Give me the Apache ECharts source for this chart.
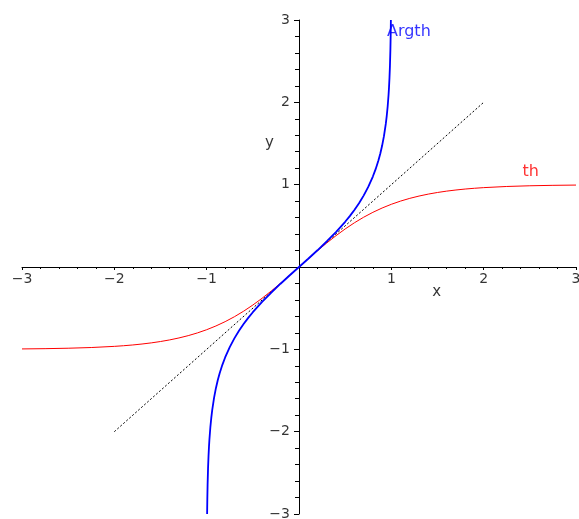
<!DOCTYPE html>
<html>
<head>
<meta charset="utf-8">
<script src="https://cdn.jsdelivr.net/npm/echarts@6/dist/echarts.min.js"></script>
<style>
  html, body { margin: 0; padding: 0; background: #fff; }
  #chart { width: 579px; height: 519px; }
</style>
</head>
<body>
<div id="chart"></div>
<script>
// Hyperbolic tangent, sampled
const thX = [-3, -2.75, -2.5, -2.25, -2, -1.9, -1.8, -1.7, -1.6, -1.5, -1.4, -1.3, -1.2, -1.1, -1, -0.9, -0.8, -0.7, -0.6, -0.5, -0.4, -0.3, -0.2, -0.1, 0,
             0.1, 0.2, 0.3, 0.4, 0.5, 0.6, 0.7, 0.8, 0.9, 1, 1.1, 1.2, 1.3, 1.4, 1.5, 1.6, 1.7, 1.8, 1.9, 2, 2.25, 2.5, 2.75, 3];
const thY = [-0.9951, -0.9918, -0.9866, -0.9780, -0.9640, -0.9562, -0.9468, -0.9354, -0.9217, -0.9051, -0.8854, -0.8617, -0.8337, -0.8005, -0.7616, -0.7163, -0.6640, -0.6044, -0.5370, -0.4621, -0.3799, -0.2913, -0.1974, -0.0997, 0,
             0.0997, 0.1974, 0.2913, 0.3799, 0.4621, 0.5370, 0.6044, 0.6640, 0.7163, 0.7616, 0.8005, 0.8337, 0.8617, 0.8854, 0.9051, 0.9217, 0.9354, 0.9468, 0.9562, 0.9640, 0.9780, 0.9866, 0.9918, 0.9951];

// Inverse hyperbolic tangent, sampled
const argthX = [-0.9951, -0.993, -0.99, -0.985, -0.98, -0.975, -0.97, -0.96, -0.95, -0.94, -0.92, -0.9, -0.88, -0.86, -0.83, -0.8, -0.75, -0.7, -0.65, -0.6, -0.55, -0.5, -0.4, -0.3, -0.2, -0.1, 0,
                0.1, 0.2, 0.3, 0.4, 0.5, 0.55, 0.6, 0.65, 0.7, 0.75, 0.8, 0.83, 0.86, 0.88, 0.9, 0.92, 0.94, 0.95, 0.96, 0.97, 0.975, 0.98, 0.985, 0.99, 0.993, 0.9951];
const argthY = [-3.0, -2.825, -2.647, -2.443, -2.298, -2.185, -2.092, -1.946, -1.832, -1.738, -1.589, -1.472, -1.376, -1.293, -1.188, -1.099, -0.973, -0.867, -0.775, -0.693, -0.618, -0.549, -0.424, -0.310, -0.203, -0.100, 0,
                0.100, 0.203, 0.310, 0.424, 0.549, 0.618, 0.693, 0.775, 0.867, 0.973, 1.099, 1.188, 1.293, 1.376, 1.472, 1.589, 1.738, 1.832, 1.946, 2.092, 2.185, 2.298, 2.443, 2.647, 2.825, 3.0];

// Identity line y = x
const diagX = [-2, 2];
const diagY = [-2, 2];

// Tick values shared by both axes
const axisTicks = [-3, -2, -1, 0, 1, 2, 3];
const tickLabels = ['\u22123', '\u22122', '\u22121', '', '1', '2', '3'];

const pairs = (xs, ys) => xs.map((x, i) => [x, ys[i]]);
const FONT = 'DejaVu Sans';

const chart = echarts.init(document.getElementById('chart'), null, { renderer: 'canvas' });

const axisCommon = {
  type: 'value',
  min: axisTicks[0],
  max: axisTicks[axisTicks.length - 1],
  interval: 1,
  splitLine: { show: false },
  axisLine: { onZero: true, lineStyle: { color: '#000', width: 1 } },
  axisLabel: { show: false }
};

// Tick labels are drawn next to the crossing axes
const xTickLabelData = axisTicks.map((v, i) => ({ value: [v, 0], label: { formatter: tickLabels[i] } }));
const yTickLabelData = axisTicks.map((v, i) => ({ value: [0, v], label: { formatter: tickLabels[i] } }));

const tickText = { show: true, color: '#000', fontFamily: FONT, fontSize: 14 };

chart.setOption({
  animation: false,
  backgroundColor: '#fff',
  grid: { left: 22, right: 3, top: 20, bottom: 5, containLabel: false, outerBoundsMode: 'none' },
  xAxis: Object.assign({}, axisCommon, {
    axisTick: { show: true, length: 3, lineStyle: { color: '#000' } },
    minorTick: { show: true, splitNumber: 5, length: 2, lineStyle: { color: '#000' } }
  }),
  yAxis: Object.assign({}, axisCommon, {
    axisTick: { show: true, length: 5, lineStyle: { color: '#000' } },
    minorTick: { show: true, splitNumber: 5, length: 4, lineStyle: { color: '#000' } }
  }),
  series: [
    {
      type: 'line', data: pairs(diagX, diagY), showSymbol: false, symbol: 'none',
      lineStyle: { color: '#000', width: 1, type: [2, 2] }, z: 2
    },
    {
      type: 'line', data: pairs(thX, thY), showSymbol: false, symbol: 'none',
      lineStyle: { color: '#ff0000', width: 1 }, z: 3
    },
    {
      type: 'line', data: pairs(argthX, argthY), showSymbol: false, symbol: 'none',
      lineStyle: { color: '#0000ff', width: 1.8 }, z: 4
    },
    {
      type: 'scatter', symbolSize: 0, clip: false, silent: true, z: 5,
      data: xTickLabelData,
      label: Object.assign({}, tickText, { position: 'bottom', distance: 5 })
    },
    {
      type: 'scatter', symbolSize: 0, clip: false, silent: true, z: 5,
      data: yTickLabelData,
      label: Object.assign({}, tickText, { position: 'left', distance: 9 })
    },
    {
      type: 'scatter', symbolSize: 0, clip: false, silent: true, z: 5,
      data: [
        { value: [1.19, 2.86], label: { formatter: 'Argth', color: '#0000ff', fontSize: 16 } },
        { value: [2.51, 1.15], label: { formatter: 'th', color: '#ff0000', fontSize: 16 } },
        { value: [1.49, -0.30], label: { formatter: 'x', color: '#000' } },
        { value: [-0.32, 1.51], label: { formatter: 'y', color: '#000' } }
      ],
      label: { show: true, position: 'inside', fontFamily: FONT, fontSize: 15 }
    }
  ]
});
</script>
</body>
</html>
